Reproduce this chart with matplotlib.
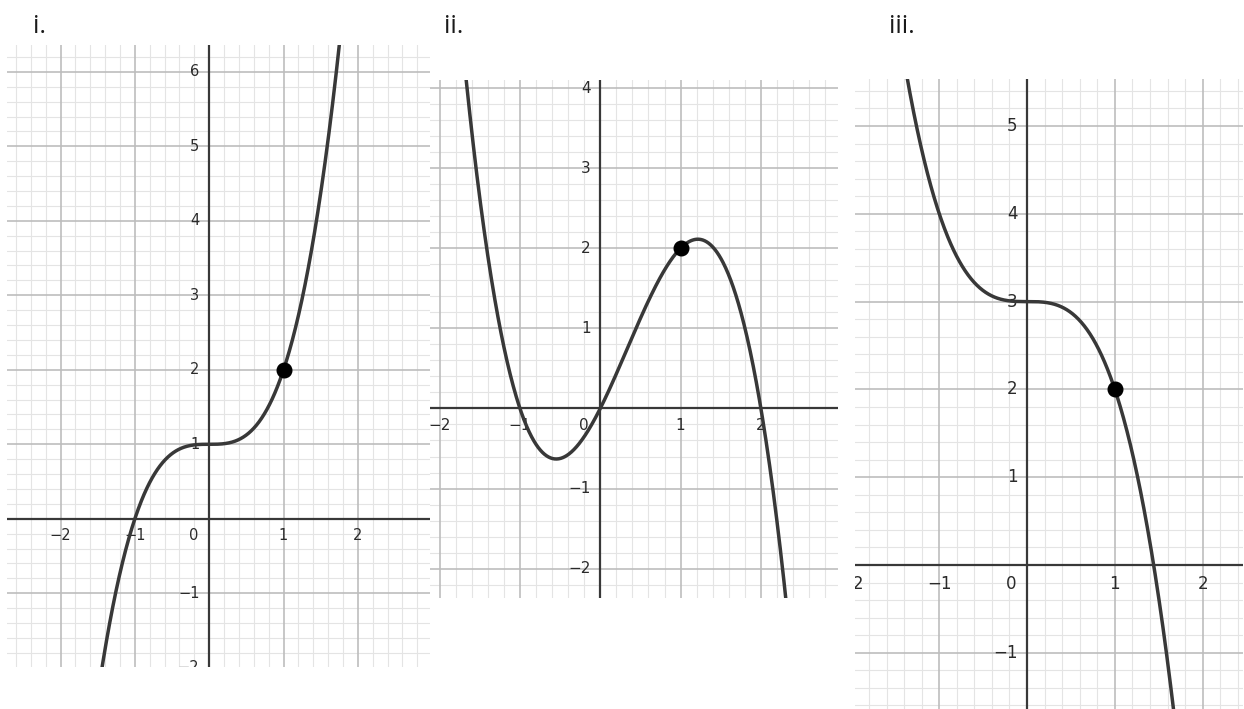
import numpy as np
import matplotlib
matplotlib.use("Agg")
import matplotlib.pyplot as plt

# polynomial coefficients, highest power first
COEF_I = [1, 0, 0, 1]        # y = x^3 + 1
COEF_II = [-1, 1, 2, 0]      # y = -x^3 + x^2 + 2x
COEF_III = [-1, 0, 0, 3]     # y = 3 - x^3

# marked point on each curve
POINT_I = (1, 2)
POINT_II = (1, 2)
POINT_III = (1, 2)

# visible window of each panel
XLIM_I, YLIM_I = (-2.72, 2.97), (-1.99, 6.36)
XLIM_II, YLIM_II = (-2.12, 2.96), (-2.36, 4.10)
XLIM_III, YLIM_III = (-1.96, 2.46), (-1.64, 5.535)

XTICKS_I, YTICKS_I = [-2, -1, 1, 2], [-2, -1, 1, 2, 3, 4, 5, 6]
XTICKS_II, YTICKS_II = [-2, -1, 1, 2], [-2, -1, 1, 2, 3, 4]
XTICKS_III, YTICKS_III = [-2, -1, 1, 2], [-1, 1, 2, 3, 4, 5]

TITLES = ["i.", "ii.", "iii."]

W, H = 1244, 709
fig = plt.figure(figsize=(W / 100, H / 100), dpi=100)

AXIS_C = "#383838"
CURVE_C = "#383838"
MAJOR_C = "#bdbdbd"
MINOR_C = "#e4e4e4"
LABEL_C = "#2a2a2a"


def box(left, right, top, bottom):
    return [left / W, 1 - bottom / H, (right - left) / W, (bottom - top) / H]


def label(ax, text, xy, off, ha, fs):
    ax.annotate(text, xy=xy, xytext=off, textcoords="offset points",
                ha=ha, va="center", fontsize=fs, color=LABEL_C,
                family="DejaVu Sans", clip_on=True, annotation_clip=False,
                zorder=3)


def fmt(t):
    return f"\u2212{abs(t)}" if t < 0 else str(t)


def panel(rect, coef, pt, xlim, ylim, xticks, yticks, fs, dy):
    ax = fig.add_axes(rect)
    ax.set_xlim(*xlim)
    ax.set_ylim(*ylim)
    for s in ax.spines.values():
        s.set_visible(False)
    ax.set_xticks([])
    ax.set_yticks([])

    # grid: majors every 1, minors every 0.2
    xs_minor = np.arange(np.ceil(xlim[0] * 5), np.floor(xlim[1] * 5) + 1) / 5
    ys_minor = np.arange(np.ceil(ylim[0] * 5), np.floor(ylim[1] * 5) + 1) / 5
    for v in xs_minor:
        major = abs(v - round(v)) < 1e-9
        ax.axvline(v, color=MAJOR_C if major else MINOR_C,
                   lw=1.2 if major else 0.8, zorder=1 if major else 0)
    for v in ys_minor:
        major = abs(v - round(v)) < 1e-9
        ax.axhline(v, color=MAJOR_C if major else MINOR_C,
                   lw=1.2 if major else 0.8, zorder=1 if major else 0)

    ax.axhline(0, color=AXIS_C, lw=1.6, zorder=2)
    ax.axvline(0, color=AXIS_C, lw=1.6, zorder=2)

    for t in xticks:
        label(ax, fmt(t), (t, 0), (0, -dy), "center", fs)
    for t in yticks:
        label(ax, fmt(t), (0, t), (-7, 0), "right", fs)
    label(ax, "0", (0, 0), (-11.5, -dy), "center", fs)

    x = np.linspace(xlim[0], xlim[1], 800)
    ax.plot(x, np.polyval(coef, x), color=CURVE_C, lw=2.5, zorder=4,
            solid_capstyle="round")
    ax.plot(*pt, "o", color="black", ms=10.5, zorder=5)
    return ax


panel(box(7, 430, 45, 667), COEF_I, POINT_I, XLIM_I, YLIM_I,
      XTICKS_I, YTICKS_I, 10.5, 12)
panel(box(430, 838, 80, 597.5), COEF_II, POINT_II, XLIM_II, YLIM_II,
      XTICKS_II, YTICKS_II, 11, 12)
panel(box(855, 1243, 79, 709), COEF_III, POINT_III, XLIM_III, YLIM_III,
      XTICKS_III, YTICKS_III, 12, 14)

for text, px in zip(TITLES, [33, 444, 889]):
    fig.text(px / W, 1 - 33 / H, text, fontsize=18, family="Open Sans",
             color="#1a1a1a", ha="left", va="baseline")

fig.savefig("out.png", dpi=100)
